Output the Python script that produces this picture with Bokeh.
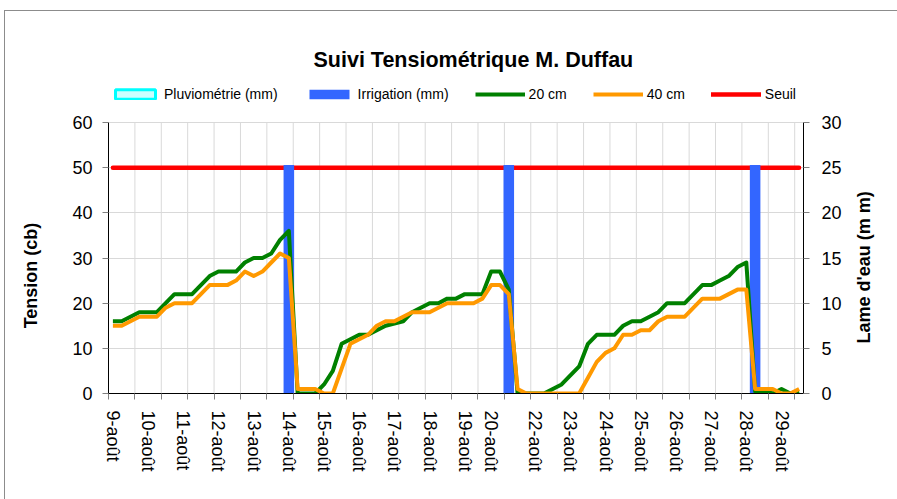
import math
from bokeh.plotting import figure
from bokeh.models import (Range1d, LinearAxis, FixedTicker, Legend, LegendItem)
from bokeh.embed import file_html
from bokeh.resources import INLINE

# ---------------- data ----------------
# one category per reading (4 readings a day, date shown on the first one)
cat_labels = [
    "9-août", "", "", "",
    "10-août", "", "", "",
    "11-août", "", "", "",
    "12-août", "", "", "",
    "13-août", "", "", "",
    "14-août", "", "", "",
    "15-août", "", "", "",
    "16-août", "", "", "",
    "17-août", "", "", "",
    "18-août", "", "", "",
    "19-août", "", "",
    "20-août", "", "", "", "",
    "22-août", "", "", "",
    "23-août", "", "", "",
    "24-août", "", "", "",
    "25-août", "", "", "",
    "26-août", "", "", "",
    "27-août", "", "", "",
    "28-août", "", "", "",
    "29-août", "", "",
]

tension_20cm = [16, 16, 17, 18, 18, 18, 20, 22, 22, 22, 24, 26, 27, 27, 27, 29, 30, 30, 31, 34, 36,
                0, 0, 0, 2, 5, 11, 12, 13, 13, 14, 15, 15.5, 16, 18, 19, 20, 20, 21, 21, 22, 22, 22, 27, 27, 23,
                0, 0, 0, 0, 1, 2, 4, 6, 11, 13, 13, 13, 15, 16, 16, 17, 18, 20, 20, 20, 22, 24, 24, 25, 26, 28, 29,
                0.5, 0.5, 0, 1, 0, 0.5]

tension_40cm = [15, 15, 16, 17, 17, 17, 19, 20, 20, 20, 22, 24, 24, 24, 25, 27, 26, 27, 29, 31, 30,
                1, 1, 1, 0, 0, 5.5, 11, 12, 13, 15, 16, 16, 17, 18, 18, 18, 19, 20, 20, 20, 20, 21, 24, 24, 22,
                1, 0, 0, 0, 0, 0, 0, 0, 3.5, 7, 9, 10, 13, 13, 14, 14, 16, 17, 17, 17, 19, 21, 21, 21, 22, 23, 23,
                1, 1, 1, 0, 0, 1]

seuil_cb = 50

irrigation_idx = [20, 45, 73]          # reading index of each irrigation
irrigation_mm = [25.3, 25.3, 25.3]

pluvio_idx = [float("nan")]            # no rain in the period (legend entry only)
pluvio_mm = [float("nan")]

left_ticks = [0, 10, 20, 30, 40, 50, 60]
right_ticks = [0, 5, 10, 15, 20, 25, 30]
left_max, right_max = 60, 30
tick_every = 3                         # category tick-mark interval

N = len(cat_labels)
idx = list(range(N))

# ---------------- figure ----------------
W, H = 897, 499
ML, MR, MB = 108, 94, 106
MT = 82                 # frame reaches up to the legend; axes are bounded to 0..60
PLOT_TOP = 122          # page y of the 60 cb level
FONT = "Liberation Sans"
NBSP = "\u00a0"

frame_h = H - MT - MB
axis_h = H - PLOT_TOP - MB
y_top = left_max * frame_h / axis_h

p = figure(width=W, height=H, x_range=Range1d(-0.5, N - 0.5), y_range=Range1d(0, y_top),
           output_backend="svg", toolbar_location=None, tools="",
           min_border_left=ML, min_border_right=MR, min_border_top=MT, min_border_bottom=MB)
p.outline_line_color = None
p.background_fill_color = "white"
p.border_fill_color = "white"
p.border_fill_alpha = 0.0
p.extra_y_ranges = {"right": Range1d(0, y_top * right_max / left_max)}

# chart-area border (top & left edges of the Excel chart frame)
try:
    p.styles = {"background": "linear-gradient(#8c8c8c,#8c8c8c) 4px 10px / 100% 1px no-repeat, "
                              "linear-gradient(#8c8c8c,#8c8c8c) 4px 10px / 1px 100% no-repeat, white"}
except Exception:
    pass

# title
p.title.text = "Suivi Tensiométrique M. Duffau"
p.title.align = "left"
p.title.offset = 205
p.title.text_font = FONT
p.title.text_font_size = "21.5px"
p.title.text_font_style = "bold"
p.title.text_color = "black"
p.title.standoff = 21

# grids
grid_pos = [k - 0.5 for k in range(0, N, tick_every)]
p.xgrid.visible = False
p.segment(x0=grid_pos, y0=[0] * len(grid_pos), x1=grid_pos, y1=[left_max] * len(grid_pos),
          line_color="#D9D9D9", line_width=1)
p.ygrid.grid_line_color = "#D9D9D9"

# x axis
label_pos = [i for i, t in enumerate(cat_labels) if t]
xa = p.xaxis[0]
xa.ticker = FixedTicker(ticks=label_pos, minor_ticks=grid_pos)
xa.major_label_overrides = {i: cat_labels[i] for i in label_pos}
xa.major_label_orientation = "vertical"
xa.major_tick_line_color = None
xa.major_tick_out = 0
xa.major_tick_in = 0
xa.minor_tick_line_color = "#808080"
xa.minor_tick_out = 6
xa.minor_tick_in = 0
xa.major_label_standoff = 11
xa.axis_line_color = "black"

# left axis (label padded so that it sits centred on the 0..60 part of the axis)
ya = p.yaxis[0]
ya.ticker = FixedTicker(ticks=left_ticks)
ya.bounds = (0, left_max)
ya.major_tick_line_color = "#808080"
ya.major_tick_out = 6
ya.major_tick_in = 0
ya.minor_tick_line_color = None
ya.major_label_standoff = 10
ya.axis_line_color = "black"
ya.axis_label = "Tension (cb)" + NBSP * 15
ya.axis_label_standoff = 28

# right axis (title reads bottom-to-top as in the reference)
ra = LinearAxis(y_range_name="right", ticker=FixedTicker(ticks=right_ticks))
ra.bounds = (0, right_max)
ra.major_tick_line_color = "#808080"
ra.major_tick_out = 6
ra.major_tick_in = 0
ra.minor_tick_line_color = None
ra.major_label_standoff = 12
ra.axis_line_color = "black"
right_title = "Lame d'eau (m m)"
ra_props = ra.properties()
if "axis_label_align" in ra_props:
    ra.axis_label_align = "start"
    right_title = NBSP * 10 + right_title
ra.axis_label = right_title
ra.axis_label_standoff = 19
if "axis_label_orientation" in ra_props:
    ra.axis_label_orientation = math.pi / 2
p.add_layout(ra, "right")

for ax in (xa, ya, ra):
    ax.major_label_text_font = FONT
    ax.major_label_text_font_size = "18px"
    ax.major_label_text_color = "black"
    ax.axis_label_text_font = FONT
    ax.axis_label_text_font_size = "18px"
    ax.axis_label_text_font_style = "bold"
    ax.axis_label_text_color = "black"

# ---------------- series ----------------
r_seuil = p.line(idx, [seuil_cb] * N, line_color="#FF0000", line_width=4.5, line_cap="round")

r_pluvio = p.vbar(x=pluvio_idx, top=pluvio_mm, width=1.2, y_range_name="right",
                  fill_color="#CCFFFF", line_color="#00FFFF", line_width=3)
r_irr = p.vbar(x=irrigation_idx, top=irrigation_mm, width=1.2, y_range_name="right",
               fill_color="#3366FF", line_color=None)

r20 = p.line(idx, tension_20cm, line_color="#008000", line_width=4, line_join="round")
r40 = p.line(idx, tension_40cm, line_color="#FF9900", line_width=4, line_join="round")

# ---------------- legend (inside the tall frame, above the 60 cb level) ----------------
legend = Legend(items=[
    LegendItem(label="Pluviométrie (mm)", renderers=[r_pluvio]),
    LegendItem(label="Irrigation (mm)", renderers=[r_irr]),
    LegendItem(label="20 cm", renderers=[r20]),
    LegendItem(label="40 cm", renderers=[r40]),
    LegendItem(label="Seuil", renderers=[r_seuil]),
], orientation="horizontal", location=(110 - ML, H - MB - 104),
    glyph_width=50, glyph_height=12, label_standoff=4, spacing=26, padding=0, margin=0,
    label_height=20, border_line_color=None, background_fill_alpha=0,
    label_text_font=FONT, label_text_font_size="14px", label_text_color="black")
p.add_layout(legend, "center")

open("out.html", "w").write(file_html(p, INLINE))
